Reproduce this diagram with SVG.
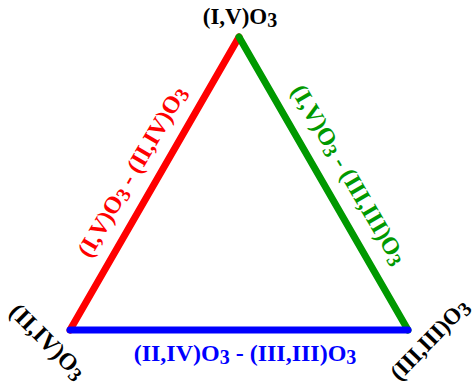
<svg xmlns="http://www.w3.org/2000/svg" width="476" height="386" viewBox="0 0 476 386">
<style>
.t{font-family:"Liberation Serif","Times New Roman",serif;font-weight:bold;font-size:24px;text-anchor:middle}
.e{stroke-width:7;stroke-linecap:round;fill:none}
.s{font-size:20px}
</style>
<rect width="476" height="386" fill="#fff"/>
<g id="connectors">
<line class="e" x1="239" y1="37" x2="70" y2="330" stroke="#ff0000"/>
<line class="e" x1="239" y1="37" x2="408" y2="330" stroke="#009900"/>
<line class="e" x1="70" y1="330" x2="408" y2="330" stroke="#0000ff"/>
</g>
<g id="n-top"><text class="t" x="240" y="24" style="font-size:23px">(I,V)O<tspan class="s" dy="3">3</tspan></text></g>
<g id="n-left" transform="translate(47,342) rotate(45)"><text class="t" x="0" y="7">(II,IV)O<tspan class="s" dy="3">3</tspan></text></g>
<g id="n-right" transform="translate(430,340) rotate(-46)"><text class="t" x="0" y="7" style="font-size:23px">(III,III)O<tspan class="s" dy="3">3</tspan></text></g>
<g id="l-red" transform="translate(133,172) rotate(-59.7)"><text class="t" x="0" y="7" fill="#ff0000">(I,V)O<tspan class="s" dy="3">3</tspan><tspan dy="-3"> - (II,IV)O</tspan><tspan class="s" dy="3">3</tspan></text></g>
<g id="l-green" transform="translate(348,175) rotate(59.7)"><text class="t" x="0" y="7" fill="#009900">(I,V)O<tspan class="s" dy="3">3</tspan><tspan dy="-3"> - (III,III)O</tspan><tspan class="s" dy="3">3</tspan></text></g>
<g id="l-blue"><text class="t" x="245" y="361" fill="#0000ff">(II,IV)O<tspan class="s" dy="3">3</tspan><tspan dy="-3"> - (III,III)O</tspan><tspan class="s" dy="3">3</tspan></text></g>
</svg>
